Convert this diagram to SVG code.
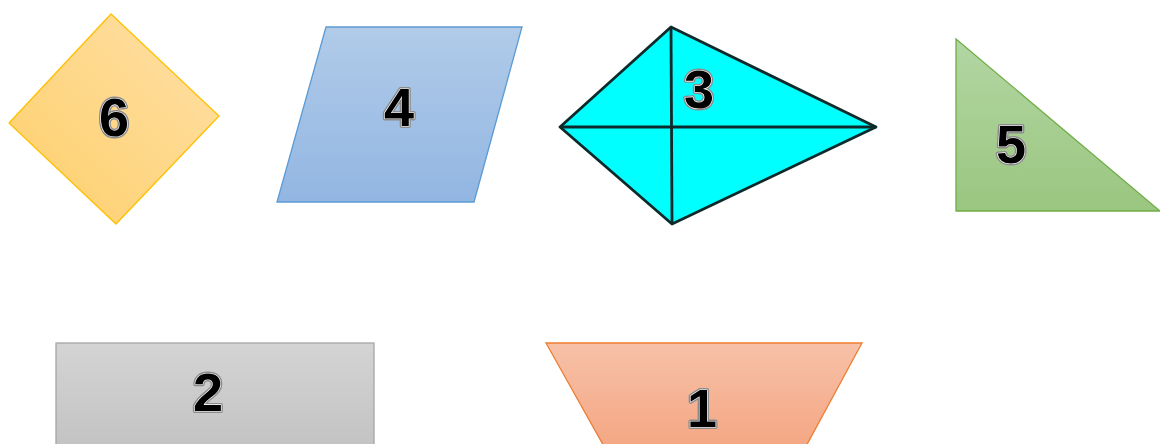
<svg xmlns="http://www.w3.org/2000/svg" width="1160" height="444" viewBox="0 0 1160 444">
<style>
.num{font-family:"Liberation Sans",Arial,sans-serif;font-weight:bold;font-size:54px;text-anchor:middle;fill:#000;stroke:#8c8c8c;stroke-width:4;paint-order:stroke;stroke-linejoin:round}
.num2{font-family:"Liberation Sans",Arial,sans-serif;font-weight:bold;font-size:54px;text-anchor:middle;fill:#000;stroke:#ffffff;stroke-width:1.2;paint-order:stroke;stroke-linejoin:round}
</style>
<defs>
<linearGradient id="gOrange6" x1="1" y1="0" x2="0" y2="1"><stop offset="0" stop-color="#fee0a8"/><stop offset="1" stop-color="#fecf6a"/></linearGradient>
<linearGradient id="gBlue" x1="0" y1="0" x2="0" y2="1"><stop offset="0" stop-color="#b1cbe9"/><stop offset="1" stop-color="#92b6e2"/></linearGradient>
<linearGradient id="gGreen" x1="0" y1="0" x2="0" y2="1"><stop offset="0" stop-color="#b3d6a3"/><stop offset="1" stop-color="#9ac680"/></linearGradient>
<linearGradient id="gGray" x1="0" y1="0" x2="0" y2="1"><stop offset="0" stop-color="#d4d4d4"/><stop offset="1" stop-color="#c2c2c2"/></linearGradient>
<linearGradient id="gSalmon" x1="0" y1="0" x2="0" y2="1"><stop offset="0" stop-color="#f7c1a8"/><stop offset="1" stop-color="#f4a682"/></linearGradient>
</defs>
<g id="node6">
<polygon points="111,14 219,116 116,224 9,123" fill="url(#gOrange6)" stroke="#ffc000" stroke-width="1.3"/>
<text class="num" x="114" y="136">6</text><text class="num2" x="114" y="136">6</text>
</g>
<g id="node4">
<polygon points="326,27 522,27 474,202 277,202" fill="url(#gBlue)" stroke="#5b9bd5" stroke-width="1.3"/>
<text class="num" x="399" y="126">4</text><text class="num2" x="399" y="126">4</text>
</g>
<g id="node3">
<polygon points="671,27 876,127 672,224 560,127" fill="#00ffff" stroke="#0f2a2a" stroke-width="2.8" stroke-linejoin="round"/>
<line x1="671" y1="27" x2="672" y2="224" stroke="#0f2a2a" stroke-width="2.8"/>
<line x1="560" y1="127" x2="876" y2="127" stroke="#0f2a2a" stroke-width="2.8"/>
<text class="num" x="699" y="108">3</text><text class="num2" x="699" y="108">3</text>
</g>
<g id="node5">
<polygon points="956,39 1160,211 956,211" fill="url(#gGreen)" stroke="#70ad47" stroke-width="1.3"/>
<text class="num" x="1011" y="163">5</text><text class="num2" x="1011" y="163">5</text>
</g>
<g id="node2">
<rect x="56" y="343" width="318" height="110" fill="url(#gGray)" stroke="#a5a5a5" stroke-width="1.3"/>
<text class="num" x="208" y="411">2</text><text class="num2" x="208" y="411">2</text>
</g>
<g id="node1">
<polygon points="546,343 862,343 804,450 606,450" fill="url(#gSalmon)" stroke="#ed7d31" stroke-width="1.3"/>
<text class="num" x="702" y="427">1</text><text class="num2" x="702" y="427">1</text>
</g>
<g id="connectors"></g>
</svg>
